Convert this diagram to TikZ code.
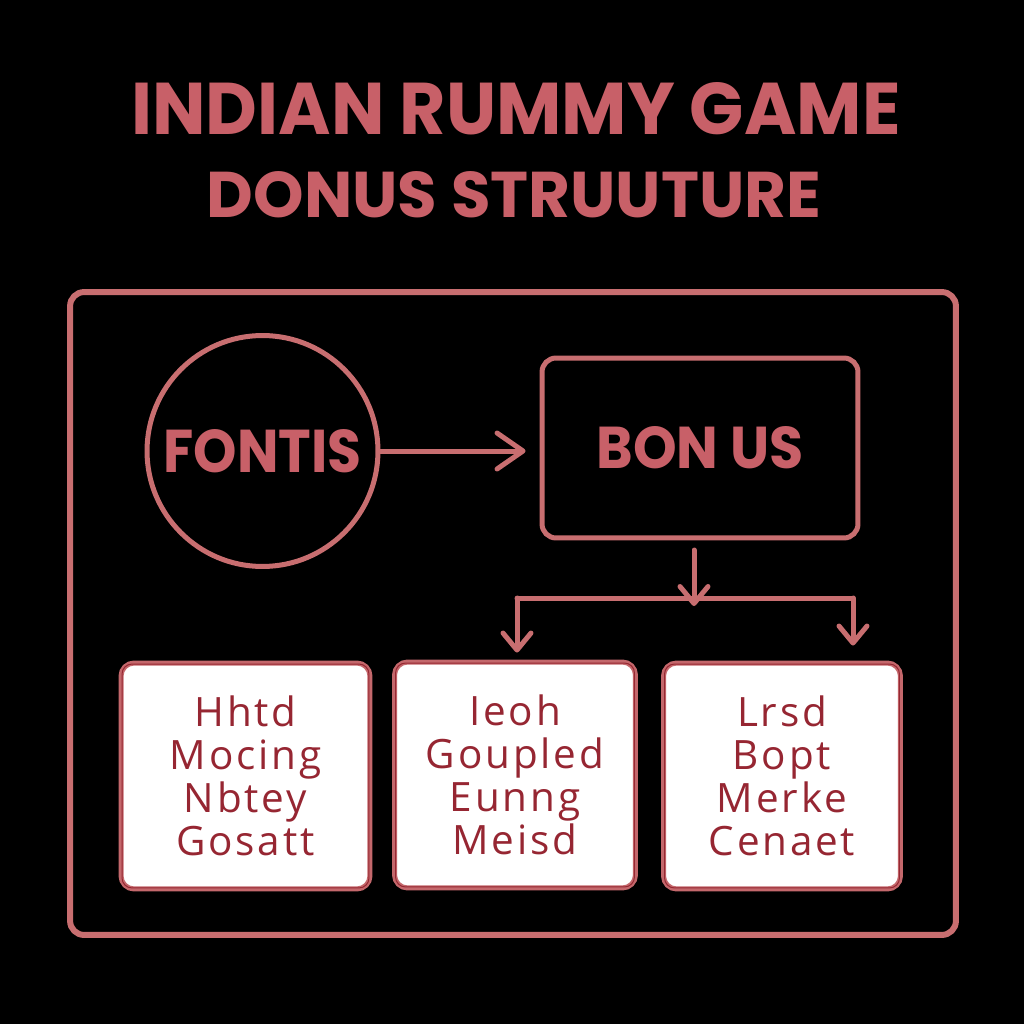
\documentclass[tikz,border=0pt]{standalone}
\usepackage{fontspec}
\usepackage{graphicx}
\usetikzlibrary{arrows.meta}
\newfontfamily\titlefont{Poppins}
\newfontfamily\boxfont[LetterSpace=7]{Open Sans}
\newlength\px
\setlength\px{0.02cm}
\definecolor{titlered}{RGB}{200,96,104}
\definecolor{linepink}{RGB}{200,110,112}
\definecolor{boxedge}{RGB}{196,104,108}
\definecolor{boxinner}{RGB}{150,40,50}
\definecolor{boxtext}{RGB}{150,38,50}
\tikzset{
  pinkline/.style={draw=linepink, line width=0.1cm},
  bigarr/.style={pinkline, line cap=round, -{Straight Barb[length=0.52cm, width=0.72cm, round]}},
  smallarr/.style={pinkline, line cap=round, -{Straight Barb[length=0.34cm, width=0.56cm, round]}},
  itembox/.style={draw=boxedge, line width=0.1cm, fill=white, rounded corners=0.26cm,
    minimum height=4.52cm, inner sep=0pt, align=center, text=boxtext,
    font=\boxfont\fontsize{23pt}{24.4pt}\selectfont},
  titletext/.style={text=titlered, inner sep=0pt, font=\titlefont\bfseries},
}
\begin{document}
\begin{tikzpicture}[x=0.02cm, y=-0.02cm]
\fill[black] (0,0) rectangle (1024,1024);
\useasboundingbox (0,0) rectangle (1024,1024);

% title
\node[titletext] (t1) at (516,108.5) {\resizebox{769\px}{52\px}{INDIAN RUMMY GAME}};
\node[titletext] (t2) at (514,195) {\resizebox{614\px}{46\px}{DONUS STRUUTURE}};

% frame
\node[pinkline, line width=0.12cm, rounded corners=0.28cm, minimum width=17.72cm, minimum height=12.86cm, inner sep=0pt] (frame) at (513,613.5) {};

% circle
\node[pinkline, circle, minimum size=4.62cm, inner sep=0pt, titletext] (fontis) at (262.5,451)
  {\resizebox{198\px}{43\px}{FONTIS}};

% bonus box
\node[pinkline, rounded corners=0.28cm, minimum width=6.32cm, minimum height=3.6cm, inner sep=0pt, titletext] (bonus) at (700,448)
  {\resizebox{207\px}{42\px}{BON US}};

% bottom boxes
\node[itembox, minimum width=4.98cm] (b1) at (245.5,776) {Hhtd\\Mocing\\Nbtey\\Gosatt};
\node[itembox, minimum width=4.82cm] (b2) at (515,775) {Ieoh\\Goupled\\Eunng\\Meisd};
\node[itembox, minimum width=4.74cm] (b3) at (782,776) {Lrsd\\Bopt\\Merke\\Cenaet};
\foreach \b in {b1,b2,b3}{
  \draw[boxinner, line width=0.02cm, rounded corners=0.2cm]
    ([shift={(0.07cm,-0.07cm)}]\b.north west) rectangle ([shift={(-0.07cm,0.07cm)}]\b.south east);
}

% connectors
\draw[bigarr, shorten >=0.28cm] (fontis.east) -- (fontis.east -| bonus.west);
\coordinate (ds) at (694,550);
\coordinate (jt) at (694,606);
\coordinate (bl) at (517,598);
\coordinate (br) at (853,598);
\draw[pinkline, line cap=round, line join=round] (bl) -- (br);
\draw[smallarr] (ds) -- (jt);
\draw[smallarr, shorten >=0.14cm] (bl) -- (bl |- b2.north);
\draw[smallarr, shorten >=0.3cm] (br) -- (br |- b3.north);
\end{tikzpicture}
\end{document}
